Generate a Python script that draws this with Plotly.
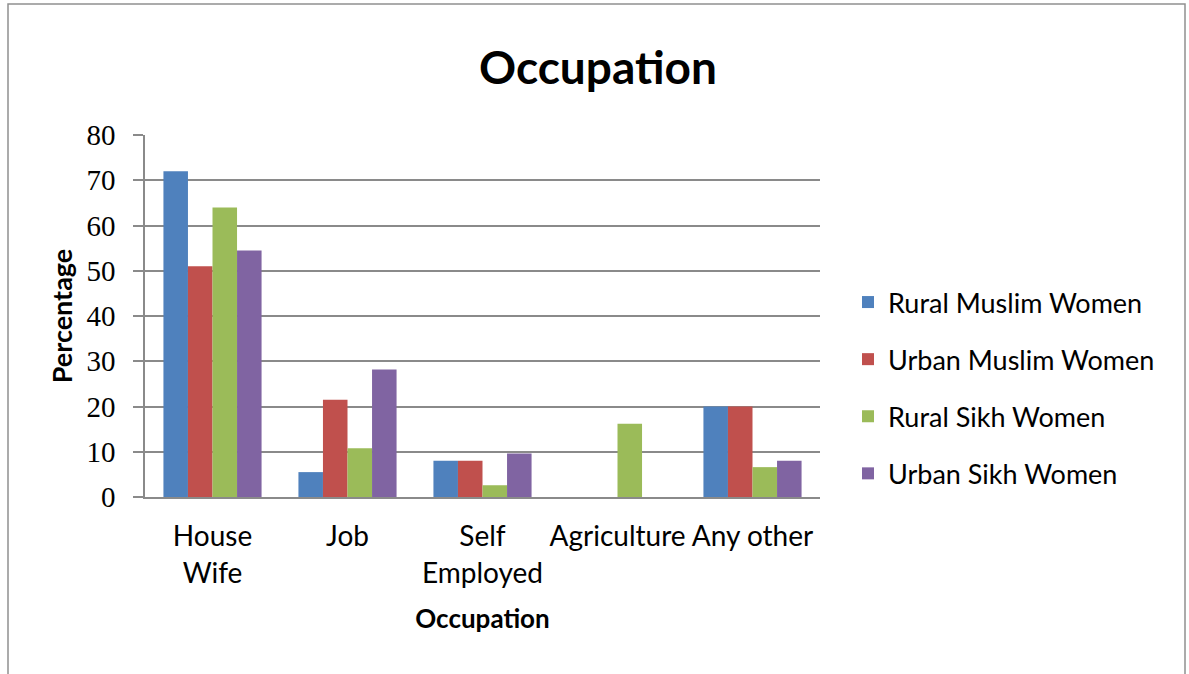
import plotly.graph_objects as go

# Occupation categories (x axis)
categories = ["House<br>Wife", "Job", "Self<br>Employed", "Agriculture", "Any other"]

# Percentage of women in each occupation, per group
rural_muslim = [72, 5.5, 8, 0, 20]
urban_muslim = [51, 21.5, 8, 0, 20]
rural_sikh = [64, 10.8, 2.6, 16.2, 6.6]
urban_sikh = [54.5, 28.2, 9.6, 0, 8]

series_names = ["Rural Muslim Women", "Urban Muslim Women", "Rural Sikh Women", "Urban Sikh Women"]
series_values = [rural_muslim, urban_muslim, rural_sikh, urban_sikh]
series_colors = ["#4F81BD", "#C0504D", "#9BBB59", "#8064A2"]

y_ticks = [0, 10, 20, 30, 40, 50, 60, 70, 80]

fig = go.Figure()
for i, (name, vals, col) in enumerate(zip(series_names, series_values, series_colors)):
    fig.add_trace(go.Bar(
        x=categories, y=vals, name=name,
        marker=dict(color=col, line=dict(width=0)),
        legendgroup=f"g{i}",
    ))

W, H = 1189, 674
ml, mr, mt, mb = 145, 369, 135, 177
pw, ph = W - ml - mr, H - mt - mb

def px_x(x):
    return (x - ml) / pw

def px_y(y):
    return (H - mb - y) / ph

grid_col = "#8a8a8a"
sans = "Lato, Open Sans, sans-serif"

fig.update_layout(
    width=W, height=H,
    margin=dict(l=ml, r=mr, t=mt, b=mb, pad=0),
    paper_bgcolor="white", plot_bgcolor="white",
    barmode="group", bargap=0.273, bargroupgap=0,
    font=dict(family=sans, color="#000000"),
    title=dict(
        text="<b>Occupation</b>",
        font=dict(family=sans, size=46, color="#000000"),
        x=px_x(598), xref="paper", xanchor="center",
        y=1 - 68 / H, yref="container", yanchor="middle",
    ),
    xaxis=dict(
        title=dict(text="<b>Occupation</b>", font=dict(size=26), standoff=22),
        tickfont=dict(family=sans, size=28, color="#000000"),
        ticklabelstandoff=14,
        showgrid=False, showline=True, linecolor=grid_col, linewidth=1.5,
        ticks="", fixedrange=True,
    ),
    yaxis=dict(
        title=dict(text="<b>Percentage</b>", font=dict(size=27), standoff=6),
        range=[0, 80], tickvals=y_ticks, ticktext=[str(v) for v in y_ticks],
        tickfont=dict(family="Liberation Serif, DejaVu Serif, serif", size=29, color="#000000"),
        ticklabelstandoff=12,
        showgrid=True, gridcolor=grid_col, gridwidth=1.5,
        showline=True, linecolor=grid_col, linewidth=1.5,
        ticks="outside", ticklen=10, tickcolor=grid_col, tickwidth=1.5,
        zeroline=False, fixedrange=True,
    ),
    legend=dict(
        x=px_x(848), xanchor="left",
        y=px_y(388), yanchor="middle",
        font=dict(family=sans, size=27, color="#000000"),
        tracegroupgap=19, itemwidth=30,
        bgcolor="rgba(0,0,0,0)",
    ),
    showlegend=True,
    shapes=[dict(
        type="rect", xref="paper", yref="paper",
        x0=px_x(8), x1=px_x(1185), y0=px_y(690), y1=px_y(4),
        line=dict(color="#909090", width=1.5), fillcolor="rgba(0,0,0,0)", layer="below",
    )],
)

fig.write_html("out.html")
